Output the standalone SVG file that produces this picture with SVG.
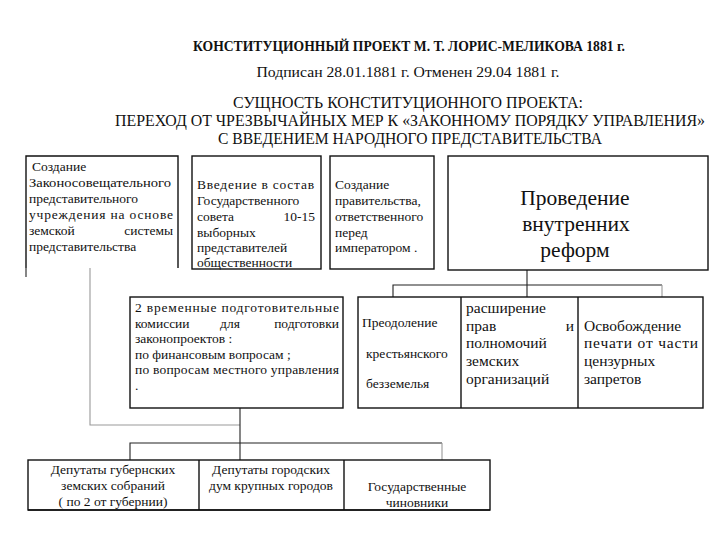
<svg xmlns="http://www.w3.org/2000/svg" width="720" height="540" viewBox="0 0 720 540">
<style>
text{font-family:"Liberation Serif",Tinos,"Times New Roman","DejaVu Serif",serif;fill:#111}
.t{font-size:13.5px}
.b{fill:none;stroke:#111;stroke-width:1.4}
.c{fill:none;stroke:#222;stroke-width:1.1}
.g{fill:none;stroke:#999;stroke-width:1.1}
.m{text-anchor:middle}
</style>
<rect width="720" height="540" fill="#fff"/>
<g id="header">
<text x="409" y="51" class="m" font-weight="bold" font-size="14" textLength="432" lengthAdjust="spacingAndGlyphs">КОНСТИТУЦИОННЫЙ ПРОЕКТ М. Т. ЛОРИС-МЕЛИКОВА 1881 г.</text>
<text x="408" y="77" class="m" font-size="15" textLength="303" lengthAdjust="spacingAndGlyphs">Подписан 28.01.1881 г. Отменен 29.04 1881 г.</text>
<text x="408" y="108" class="m" font-size="16" textLength="350" lengthAdjust="spacingAndGlyphs">СУЩНОСТЬ КОНСТИТУЦИОННОГО ПРОЕКТА:</text>
<text x="410" y="126" class="m" font-size="16" textLength="590" lengthAdjust="spacingAndGlyphs">ПЕРЕХОД ОТ ЧРЕЗВЫЧАЙНЫХ МЕР К «ЗАКОННОМУ ПОРЯДКУ УПРАВЛЕНИЯ»</text>
<text x="410" y="144" class="m" font-size="16" textLength="384" lengthAdjust="spacingAndGlyphs">С ВВЕДЕНИЕМ НАРОДНОГО ПРЕДСТАВИТЕЛЬСТВА</text>
</g>
<g id="connectors">
<polyline class="c" points="26,268 26,277"/>
<polyline class="g" points="90,268 90,425 240,425"/>
<polyline class="c" points="527,270 527,297"/>
<polyline class="c" points="393,297 393,285 662,285"/>
<polyline class="g" points="662,285 662,297"/>
<polyline class="c" points="240,408 240,460"/>
<polyline class="c" points="130,460 130,443 442,443"/>
<polyline class="g" points="442,443 442,460"/>
</g>
<g id="box1">
<polyline class="b" points="26,268 26,156 178,156 178,268"/>
<text class="t" x="32" y="171">Создание</text>
<text class="t" x="29" y="187" textLength="142" lengthAdjust="spacingAndGlyphs">Законосовещательного</text>
<text class="t" x="29" y="203">представительного</text>
<text class="t" x="29" y="219" textLength="144" lengthAdjust="spacing">учреждения на основе</text>
<text class="t" x="29" y="235">земской</text>
<text class="t" x="173" y="235" text-anchor="end">системы</text>
<text class="t" x="29" y="251">представительства</text>
</g>
<g id="box2">
<rect class="b" x="192" y="156" width="129" height="113"/>
<text class="t" x="197" y="189" textLength="117" lengthAdjust="spacing">Введение в состав</text>
<text class="t" x="197" y="205">Государственного</text>
<text class="t" x="197" y="221">совета</text>
<text class="t" x="315" y="221" text-anchor="end">10-15</text>
<text class="t" x="197" y="237">выборных</text>
<text class="t" x="197" y="252">представителей</text>
<text class="t" x="197" y="267">общественности</text>
</g>
<g id="box3">
<rect class="b" x="330" y="156" width="104" height="113"/>
<text class="t" x="335" y="189">Создание</text>
<text class="t" x="335" y="205">правительства,</text>
<text class="t" x="335" y="221">ответственного</text>
<text class="t" x="335" y="237">перед</text>
<text class="t" x="335" y="252">императором .</text>
</g>
<g id="box4">
<rect class="b" x="448" y="156" width="260" height="114"/>
<text class="m" x="575" y="205" font-size="21.5">Проведение</text>
<text class="m" x="576" y="231" font-size="21.5">внутренних</text>
<text class="m" x="575" y="257" font-size="21.5">реформ</text>
</g>
<g id="box5">
<rect class="b" x="130" y="297" width="213" height="111"/>
<text class="t" x="135" y="312" textLength="204" lengthAdjust="spacing">2 временные подготовительные</text>
<text class="t" x="135" y="328">комиссии</text>
<text class="t m" x="230" y="328">для</text>
<text class="t" x="339" y="328" text-anchor="end">подготовки</text>
<text class="t" x="135" y="343">законопроектов :</text>
<text class="t" x="135" y="359">по финансовым вопросам ;</text>
<text class="t" x="135" y="374" textLength="204" lengthAdjust="spacing">по вопросам местного управления</text>
<text class="t" x="135" y="390">.</text>
</g>
<g id="box6">
<rect class="b" x="358" y="297" width="345" height="111"/>
<line class="b" x1="461" y1="297" x2="461" y2="408"/>
<line class="b" x1="578" y1="297" x2="578" y2="408"/>
</g>
<g id="box6a">
<text class="t" x="362" y="327">Преодоление</text>
<text class="t" x="366" y="358">крестьянского</text>
<text class="t" x="366" y="388">безземелья</text>
</g>
<g id="box6b">
<text x="466" y="313" font-size="15.5">расширение</text>
<text x="466" y="331" font-size="15.5">прав</text>
<text x="574" y="331" font-size="15.5" text-anchor="end">и</text>
<text x="466" y="348" font-size="15.5">полномочий</text>
<text x="466" y="366" font-size="15.5">земских</text>
<text x="466" y="384" font-size="15.5">организаций</text>
</g>
<g id="box6c">
<text x="584" y="331" font-size="15.5">Освобождение</text>
<text x="584" y="348" font-size="15.5" textLength="114" lengthAdjust="spacing">печати от части</text>
<text x="584" y="366" font-size="15.5">цензурных</text>
<text x="584" y="384" font-size="15.5">запретов</text>
</g>
<g id="box7">
<rect class="b" x="28" y="460" width="462" height="50"/>
<line class="b" x1="28" y1="510" x2="490" y2="510" stroke-width="2"/>
<line class="b" x1="199" y1="460" x2="199" y2="510"/>
<line class="b" x1="344" y1="460" x2="344" y2="510"/>
</g>
<g id="box7a">
<text class="t m" x="113" y="474">Депутаты губернских</text>
<text class="t m" x="113" y="490">земских собраний</text>
<text class="t m" x="113" y="506">( по 2 от губернии)</text>
</g>
<g id="box7b">
<text class="t m" x="271" y="474">Депутаты городских</text>
<text class="t m" x="271" y="490">дум крупных городов</text>
</g>
<g id="box7c">
<text class="t m" x="417" y="491">Государственные</text>
<text class="t m" x="417" y="507">чиновники</text>
</g>
</svg>
